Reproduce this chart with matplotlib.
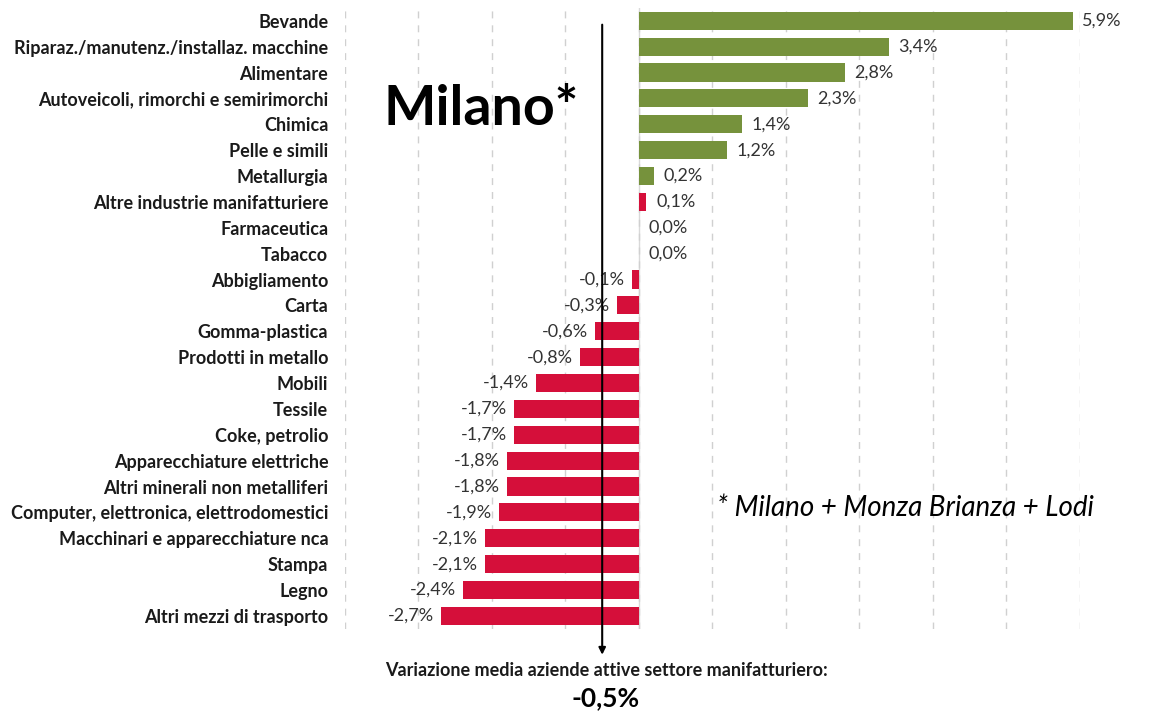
import matplotlib.pyplot as plt
import matplotlib

plt.rcParams['font.family'] = ['Lato', 'DejaVu Sans']

categories = [
    'Bevande', 'Riparaz./manutenz./installaz. macchine', 'Alimentare',
    'Autoveicoli, rimorchi e semirimorchi', 'Chimica', 'Pelle e simili',
    'Metallurgia', 'Altre industrie manifatturiere', 'Farmaceutica', 'Tabacco',
    'Abbigliamento', 'Carta', 'Gomma-plastica', 'Prodotti in metallo', 'Mobili',
    'Tessile', 'Coke, petrolio', 'Apparecchiature elettriche',
    'Altri minerali non metalliferi', 'Computer, elettronica, elettrodomestici',
    'Macchinari e apparecchiature nca', 'Stampa', 'Legno', 'Altri mezzi di trasporto',
]
values = [5.9, 3.4, 2.8, 2.3, 1.4, 1.2, 0.2, 0.1, 0.0, 0.0,
          -0.1, -0.3, -0.6, -0.8, -1.4, -1.7, -1.7, -1.8, -1.8, -1.9,
          -2.1, -2.1, -2.4, -2.7]
media = -0.5

GREEN = '#76923C'
RED = '#D50F3A'
colors = [GREEN if v > 0 else RED for v in values]
# in the original the 0,1% bar is drawn red
colors[categories.index('Altre industrie manifatturiere')] = RED

fig = plt.figure(figsize=(11.5, 7.13), dpi=100)
ax = fig.add_axes([0.3, 0.118, 0.639, 0.871])

y = list(range(len(categories)))
ax.barh(y, values, height=0.7, color=colors, zorder=3)
ax.set_ylim(len(categories) - 0.5, -0.5)
ax.set_xlim(-4, 6)

ax.set_xticks(range(-4, 7))
ax.set_xticklabels([])
ax.tick_params(length=0)
ax.grid(axis='x', linestyle=(0, (5, 5)), color='#d0d0d0', linewidth=1, zorder=0)
ax.axvline(0, color='#d9d9d9', linewidth=1, zorder=1)
for s in ax.spines.values():
    s.set_visible(False)

ax.set_yticks(y)
ax.set_yticklabels(categories, fontweight='bold', fontsize=13, color='#1a1a1a')
ax.tick_params(axis='y', pad=12)

for yi, v in zip(y, values):
    txt = f'{v:.1f}%'.replace('.', ',')
    if v >= 0:
        ax.annotate(txt, (v, yi), xytext=(7, 0), textcoords='offset points',
                    ha='left', va='center', fontsize=13, color='#333333')
    else:
        ax.annotate(txt, (v, yi), xytext=(-5, 0), textcoords='offset points',
                    ha='right', va='center', fontsize=13, color='#333333')

# arrow for the average
ax.annotate('', xy=(media, 24.5), xytext=(media, 0.15),
            arrowprops=dict(arrowstyle='-|>', color='black', lw=1.5,
                            mutation_scale=10, shrinkA=0, shrinkB=0),
            annotation_clip=False, zorder=5)

fig.text(0.418, 0.847, 'Milano*', fontsize=40, fontweight='bold',
         ha='center', va='center')
fig.text(0.787, 0.287, '* Milano + Monza Brianza + Lodi', fontsize=20,
         style='italic', ha='center', va='center')
fig.text(0.527, 0.06, 'Variazione media aziende attive settore manifatturiero:',
         fontsize=13, fontweight='bold', ha='center', va='center', color='#1a1a1a')
fig.text(0.527, 0.021, f'{media:.1f}%'.replace('.', ','), fontsize=19,
         fontweight='bold', ha='center', va='center')

fig.savefig('out.png', dpi=100)
